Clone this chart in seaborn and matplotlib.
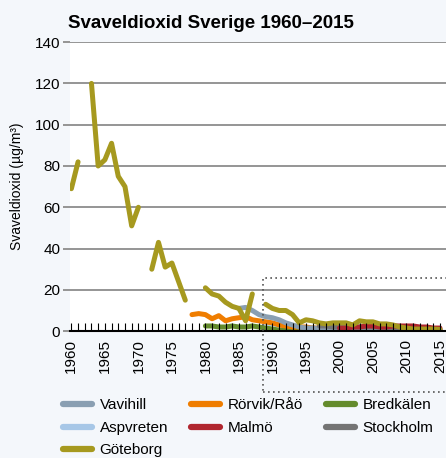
import numpy as np
import pandas as pd
import matplotlib
matplotlib.use("Agg")
import matplotlib.pyplot as plt
import seaborn as sns
from matplotlib.patches import Rectangle

nan = np.nan
years = list(range(1960, 2016))

goteborg = [69, 82, nan, 120, 80, 83, 91, 75, 70, 51,
            60, nan, 30, 43, 31, 33, 24, 15, nan, nan,
            21, 18, 17, 14, 12, 11, 5, 18, nan, 13,
            11, 10, 10, 8, 4, 5.5, 5, 4, 3.5, 4,
            4, 4, 3, 5, 4.5, 4.5, 3.5, 3.5, 3, 2,
            1.5, 1, 1, 1, 1, 0.8]
vavihill = [nan] * 25 + [11, 11.5, 10, 8, 7,
                         6.5, 5.5, 4, 3, 2, 1.5, 1.5, 1, 1, 1,
                         0.8, 0.8, 0.8, 0.7, 0.7, 0.7, 0.6, 0.6, 0.6, 0.5,
                         0.5, 0.5, 0.5, 0.5, 0.5, 0.5]
rorvik = [nan] * 18 + [8, 8.5,
                       8, 6, 7.5, 5, 6, 6.5, 7, 5.5, 5, 4.5,
                       4, 3, 2.5, 2, 2, 2, 1.5, 1.5, 1.5, 1.2,
                       1, 1, 1, 1, 0.8, 0.8, 0.8, 0.7, 0.7, 0.6,
                       0.6, 0.6, 0.5, 0.5, 0.5, 0.5]
bredkalen = [nan] * 20 + [2.5, 2.5, 2, 2, 2.5, 2, 2, 2.5, 2, 1.5,
                          1, 0.5, 0.5, 0.5, 0.4, 0.4, 0.4, 0.3, 0.3, 0.3,
                          0.3, 0.3, 0.3, 0.3, 0.3, 0.3, 0.3, 0.3, 0.3, 0.3,
                          0.3, 0.3, 0.3, 0.3, 0.3, 0.3]
aspvreten = [nan] * 29 + [4,
                          3.5, 3, 2.5, 2, 2, 1.5, 1.5, 1.2, 1, 1,
                          1, 1, 1, 0.8, 0.8, 0.8, 0.8, 0.7, 0.7, 0.7,
                          0.6, 0.6, 0.6, 0.5, 0.5, 0.5]
malmo = [nan] * 40 + [1.5, 1.5, 2, 2, 2.5, 2.5, 2, 2, 2.5, 2.5,
                      2.5, 2.5, 2, 2, 1.5, 1.5]
stockholm = [nan] * 37 + [2.5, 2.5, 2,
                          2, 2, 2, 2, 2, 2, 2, 1.5, 1.5, 1.5,
                          1.5, 1.5, 1.2, 1.2, 1, 1]

series = {
    "Aspvreten": (aspvreten, "#a7c7e7"),
    "Bredkälen": (bredkalen, "#648b2c"),
    "Rörvik/Råö": (rorvik, "#ef7d00"),
    "Vavihill": (vavihill, "#8a9fb2"),
    "Stockholm": (stockholm, "#747474"),
    "Malmö": (malmo, "#b0262f"),
    "Göteborg": (goteborg, "#a6991f"),
}
legend_order = ["Vavihill", "Aspvreten", "Göteborg", "Rörvik/Råö",
                "Malmö", "Bredkälen", "Stockholm"]

bg = "#f4f7fb"
plt.rcParams["font.family"] = ["Liberation Sans", "DejaVu Sans"]

fig = plt.figure(figsize=(4.46, 4.58), dpi=100, facecolor=bg)
ax = fig.add_axes([0.157, 0.277, 0.843, 0.631])
ax.set_facecolor("white")

handles = {}
for name, (vals, color) in series.items():
    df = pd.DataFrame({"year": years, "value": vals})
    # split on gaps so the line breaks where data is missing
    df["seg"] = df["value"].isna().cumsum()
    df = df.dropna()
    sns.lineplot(data=df, x="year", y="value", units="seg", estimator=None,
                 color=color, linewidth=3.6, ax=ax, zorder=2,
                 solid_capstyle="round", solid_joinstyle="round")
    handles[name] = plt.Line2D([], [], color=color, linewidth=4.5,
                               solid_capstyle="round")

for v in range(20, 141, 20):
    ax.axhline(v, color="#8c8c8c", linewidth=1.3, zorder=1)

ax.set_xlim(1959.8, 2015.9)
ax.set_ylim(0, 140)
ax.set_yticks(range(0, 141, 20))
ax.set_xticks(range(1960, 2016, 5))
ax.set_xticks(range(1960, 2016), minor=True)
ax.set_axisbelow(False)
ax.tick_params(axis="x", which="both", direction="in", length=6, width=0.8,
               color="black", labelsize=11, labelrotation=90, pad=6)
ax.tick_params(axis="y", length=5, width=1.3, color="#8c8c8c",
               labelsize=11, pad=2)
for s in ["top", "right", "left"]:
    ax.spines[s].set_visible(False)
ax.spines["bottom"].set_linewidth(1.5)
ax.spines["bottom"].set_zorder(3)

ax.set_xlabel("")
ax.set_ylabel("Svaveldioxid (µg/m³)", fontsize=10, labelpad=8)
ax.set_title("Svaveldioxid Sverige 1960–2015", fontsize=13.5,
             fontweight="bold", loc="left", x=-0.005, pad=10)

ax.add_patch(Rectangle((1988.6, -29.6), 40, 55.3, fill=False,
                       edgecolor="#555555", linestyle=(0, (1, 2)),
                       linewidth=1.2, clip_on=False, zorder=4))

fig.legend([handles[n] for n in legend_order], legend_order, ncol=3,
           loc="upper left", bbox_to_anchor=(0.11, 0.16), frameon=False,
           fontsize=11, handlelength=1.9, columnspacing=1.5,
           handletextpad=0.5, labelspacing=0.55)

fig.savefig("out.png", dpi=100, facecolor=bg)
